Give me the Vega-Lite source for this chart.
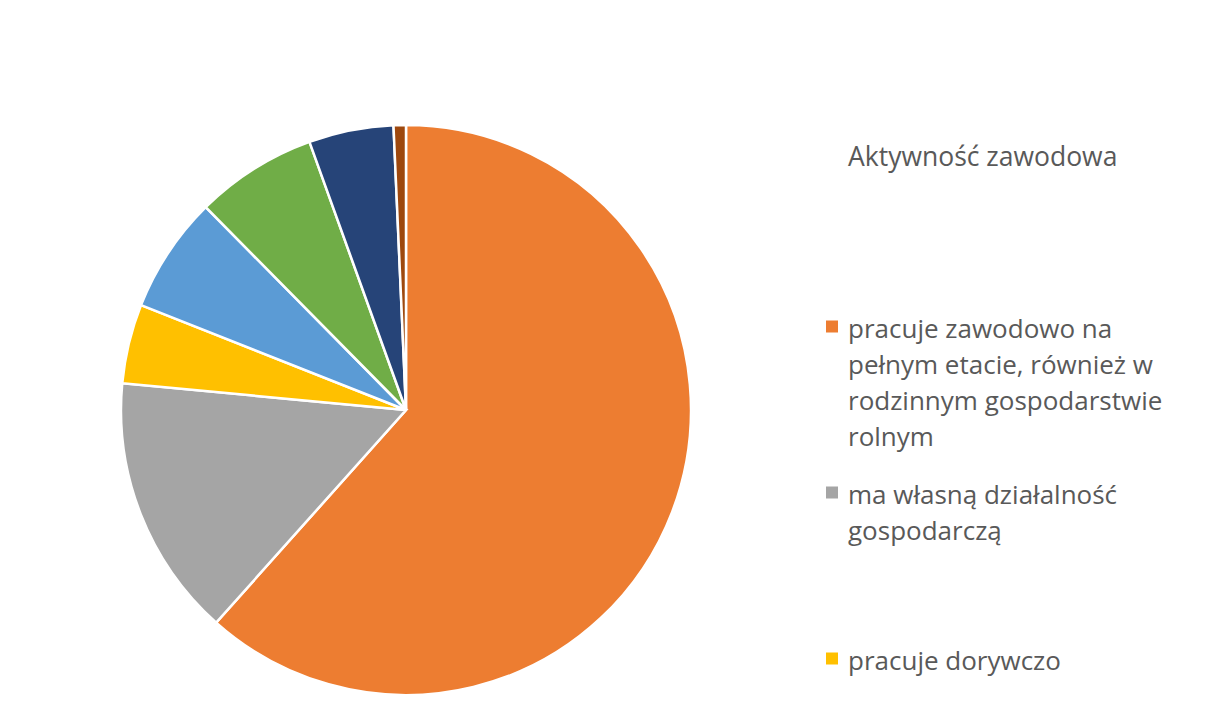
{
  "$schema": "https://vega.github.io/schema/vega-lite/v6.json",
  "autosize": {"type": "none"},
  "width": 570,
  "height": 570,
  "padding": {"left": 121, "top": 125, "right": 518, "bottom": 18},
  "background": "white",
  "config": {
    "view": {"stroke": null},
    "font": "Open Sans",
    "style": {
      "guide-label": {"lineHeight": 36, "dy": -10},
      "guide-title": {"dx": 29}
    }
  },
  "data": {
    "values": [
      {"kategoria": "pracuje zawodowo na pełnym etacie, również w rodzinnym gospodarstwie rolnym", "udzial": 61.6, "kolejnosc": 1},
      {"kategoria": "ma własną działalność gospodarczą", "udzial": 14.9, "kolejnosc": 2},
      {"kategoria": "pracuje dorywczo", "udzial": 4.5, "kolejnosc": 3},
      {"kategoria": "pracuje na część etatu", "udzial": 6.6, "kolejnosc": 4},
      {"kategoria": "nie pracuje zawodowo", "udzial": 6.9, "kolejnosc": 5},
      {"kategoria": "jest na emeryturze lub rencie", "udzial": 4.8, "kolejnosc": 6},
      {"kategoria": "inna sytuacja", "udzial": 0.7, "kolejnosc": 7}
    ]
  },
  "mark": {"type": "arc", "stroke": "white", "strokeWidth": 2.5},
  "encoding": {
    "theta": {"field": "udzial", "type": "quantitative", "stack": true},
    "order": {"field": "kolejnosc", "type": "quantitative"},
    "color": {
      "field": "kategoria",
      "type": "nominal",
      "sort": {"field": "kolejnosc"},
      "scale": {
        "domain": [
          "pracuje zawodowo na pełnym etacie, również w rodzinnym gospodarstwie rolnym",
          "ma własną działalność gospodarczą",
          "pracuje dorywczo",
          "pracuje na część etatu",
          "nie pracuje zawodowo",
          "jest na emeryturze lub rencie",
          "inna sytuacja"
        ],
        "range": ["#ED7D31", "#A5A5A5", "#FFC000", "#5B9BD5", "#70AD47", "#264478", "#9E480E"]
      },
      "legend": {
        "title": "Aktywność zawodowa",
        "orient": "none",
        "legendX": 698,
        "legendY": 20,
        "padding": 0,
        "titleFont": "Open Sans",
        "titleFontSize": 26.5,
        "titleFontWeight": "normal",
        "titleColor": "#595959",
        "titleBaseline": "top",
        "titleLimit": 0,
        "titlePadding": 142,
        "labelFont": "Open Sans",
        "labelFontSize": 26,
        "labelColor": "#595959",
        "labelLimit": 0,
        "labelOffset": 3,
        "labelBaseline": "top",
        "labelExpr": "datum.label == 'pracuje zawodowo na pełnym etacie, również w rodzinnym gospodarstwie rolnym' ? ['pracuje zawodowo na', 'pełnym etacie, również w', 'rodzinnym gospodarstwie', 'rolnym'] : datum.label == 'ma własną działalność gospodarczą' ? ['ma własną działalność', 'gospodarczą'] : datum.label == 'jest na emeryturze lub rencie' ? ['jest na emeryturze lub', 'rencie'] : datum.label",
        "symbolType": "square",
        "symbolSize": 144,
        "symbolStrokeWidth": 0,
        "columns": 1,
        "gridAlign": "all",
        "rowPadding": 29
      }
    }
  }
}
